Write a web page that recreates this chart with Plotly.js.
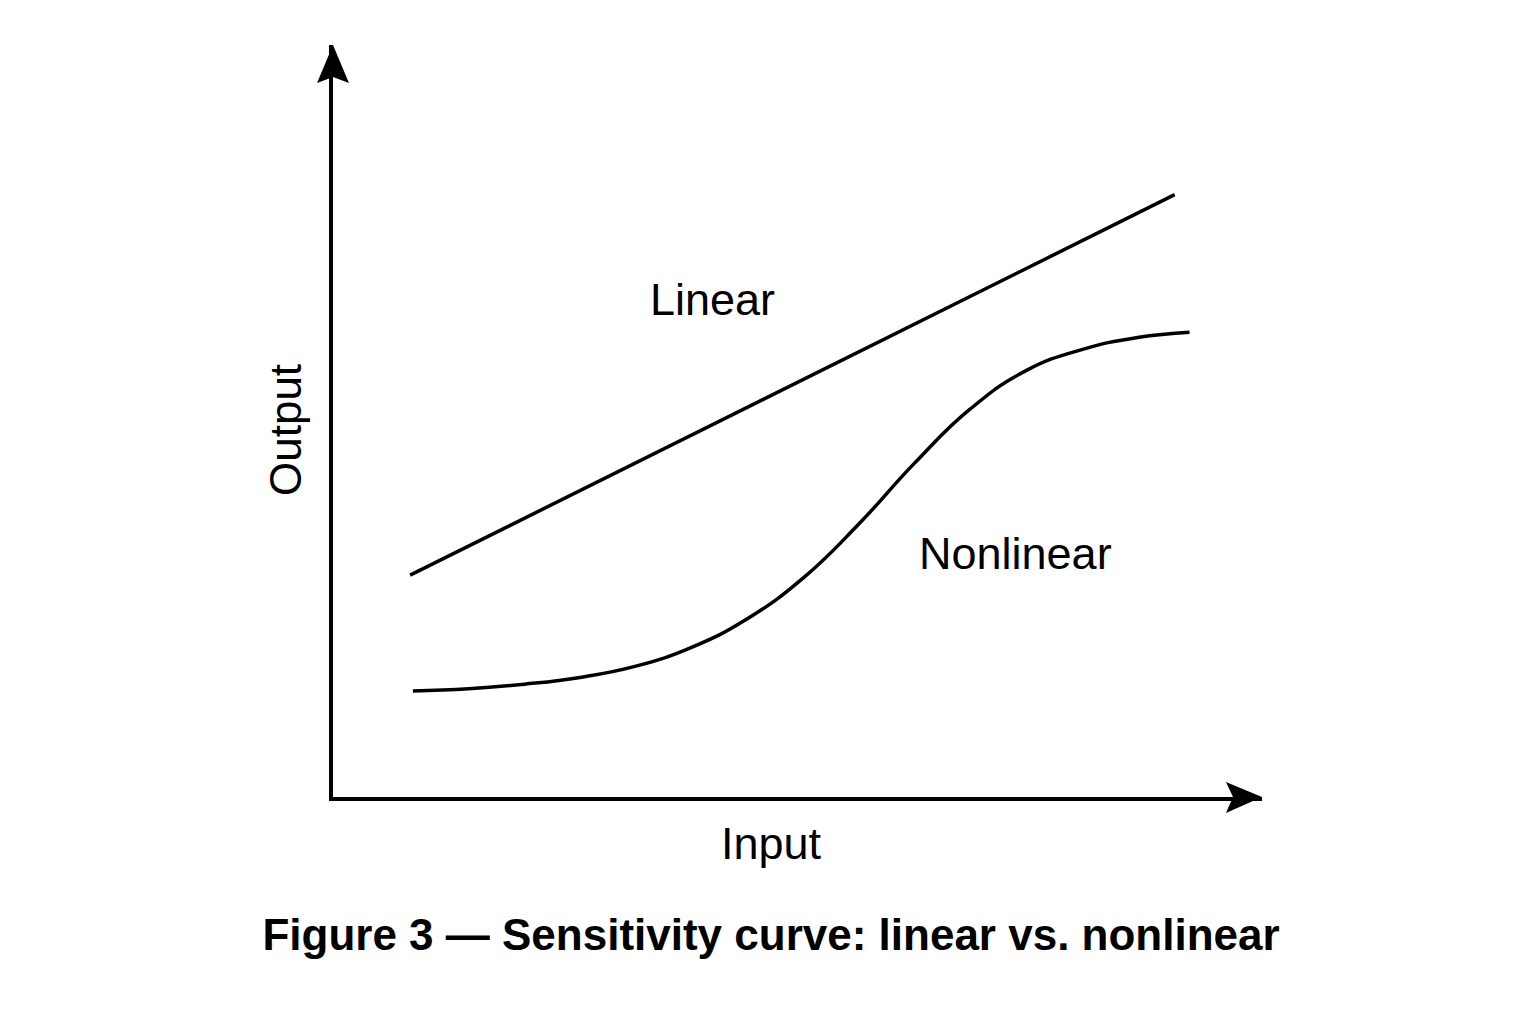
<!DOCTYPE html>
<html>
<head>
<meta charset="utf-8">
<script src="https://cdn.plot.ly/plotly-3.0.1.min.js"></script>
<style>html,body{margin:0;padding:0;background:#fff;}#chart{width:1536px;height:1024px;}</style>
</head>
<body>
<div id="chart"></div>
<script>
// Data (arbitrary units, 0-100 scale)
const linearX = [8.3, 90.6];
const linearY = [29.5, 80.1];
const nonlinearX = [8.6, 14.6, 20.6, 26.6, 32.6, 38.6, 44.6, 50.6, 56.6, 62.6, 68.6, 74.6, 80.6, 86.6, 92.2];
const nonlinearY = [14.1, 14.4, 15.0, 15.9, 17.4, 19.9, 23.7, 29.1, 36.3, 44.4, 51.6, 56.7, 59.5, 61.1, 61.8];
const seriesNames = ["Linear", "Nonlinear"];
const titleText = "Figure 3 — Sensitivity curve: linear vs. nonlinear";
const xTitle = "Input";
const yTitle = "Output";

const FONT = "Liberation Sans, Arial, sans-serif";
const lineStyle = {color: "#000", width: 3.5};

const traces = [
  {x: linearX, y: linearY, mode: "lines", name: seriesNames[0], line: lineStyle, hoverinfo: "skip"},
  {x: nonlinearX, y: nonlinearY, mode: "lines", name: seriesNames[1], line: Object.assign({shape: "spline", smoothing: 1.3}, lineStyle), hoverinfo: "skip"}
];

const axisCommon = {
  range: [0, 100], showgrid: false, zeroline: false, showticklabels: false,
  ticks: "", showline: true, linecolor: "#000", linewidth: 4, fixedrange: true
};

const layout = {
  width: 1536, height: 1024,
  paper_bgcolor: "#fff", plot_bgcolor: "#fff",
  margin: {l: 333, r: 274, t: 45, b: 227},
  showlegend: false,
  title: {text: "<b>" + titleText + "</b>", font: {family: FONT, size: 44, color: "#000"},
          x: 0.4715, xref: "paper", xanchor: "center", y: 1 - 935/1024, yref: "container", yanchor: "middle"},
  xaxis: Object.assign({}, axisCommon),
  yaxis: Object.assign({}, axisCommon),
  annotations: [
    {x: 0.4715, y: -0.0612, xref: "paper", yref: "paper", text: xTitle, showarrow: false,
     xanchor: "center", yanchor: "middle", font: {family: FONT, size: 45, color: "#000"}},
    {x: -0.0517, y: 0.488, xref: "paper", yref: "paper", text: yTitle, showarrow: false, textangle: -90,
     xanchor: "center", yanchor: "middle", font: {family: FONT, size: 44, color: "#000"}},
    {x: 40.9, y: 66.1, xref: "x", yref: "y", text: seriesNames[0], showarrow: false,
     font: {family: FONT, size: 45, color: "#000"}},
    {x: 73.5, y: 32.4, xref: "x", yref: "y", text: seriesNames[1], showarrow: false,
     font: {family: FONT, size: 45, color: "#000"}}
  ],
  shapes: [
    {type: "path", xref: "paper", yref: "paper", fillcolor: "#000", line: {width: 0},
     path: "M 0 1 L -0.0172 0.9495 L 0 0.9574 L 0.0172 0.9495 Z"},
    {type: "path", xref: "paper", yref: "paper", fillcolor: "#000", line: {width: 0},
     path: "M 1 0 L 0.9612 0.02 L 0.9688 0 L 0.9612 -0.0213 Z"}
  ]
};

Plotly.newPlot("chart", traces, layout, {staticPlot: true, displayModeBar: false});
</script>
</body>
</html>
